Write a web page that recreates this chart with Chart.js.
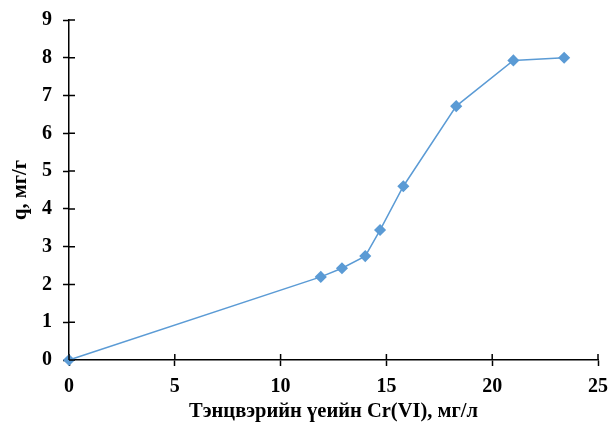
<!DOCTYPE html>
<html>
<head>
<meta charset="utf-8">
<script src="https://cdn.jsdelivr.net/npm/chart.js@4/dist/chart.umd.min.js"></script>
<style>
  html, body { margin: 0; padding: 0; background: #ffffff; }
  #wrap { width: 609px; height: 428px; }
</style>
</head>
<body>
<div id="wrap"><canvas id="c" width="609" height="428"></canvas></div>
<script>
// Equilibrium Cr(VI) concentration, mg/L
const ceValues = [0, 11.9, 12.9, 14.0, 14.7, 15.8, 18.3, 21.0, 23.4];
// Adsorbed amount q, mg/g
const qValues = [0, 2.2, 2.43, 2.75, 3.44, 4.6, 6.72, 7.93, 8.0];

const xTitle = 'Тэнцвэрийн үеийн Cr(VI), мг/л';
const yTitle = 'q, мг/г';

const points = ceValues.map((x, i) => ({ x: x, y: qValues[i] }));

const serif = '"Liberation Serif", "Times New Roman", serif';
const blue = '#5b9bd5';

// Tick marks that cross the axis line: Chart.js draws the outer half,
// this adds the inner half.
const innerTicks = {
  id: 'innerTicks',
  afterDraw(chart) {
    const ctx = chart.ctx;
    const xs = chart.scales.x, ys = chart.scales.y;
    const len = 6;
    ctx.save();
    ctx.strokeStyle = '#000';
    ctx.lineWidth = 1.5;
    ctx.beginPath();
    xs.ticks.forEach(t => {
      const px = xs.getPixelForValue(t.value);
      ctx.moveTo(px, xs.top);
      ctx.lineTo(px, xs.top - len);
    });
    ys.ticks.forEach(t => {
      const py = ys.getPixelForValue(t.value);
      ctx.moveTo(ys.right, py);
      ctx.lineTo(ys.right + len, py);
    });
    ctx.stroke();
    ctx.restore();
  }
};

new Chart(document.getElementById('c'), {
  type: 'scatter',
  data: {
    datasets: [{
      data: points,
      showLine: true,
      borderColor: blue,
      backgroundColor: blue,
      borderWidth: 1.5,
      pointStyle: 'rectRot',
      pointRadius: 5,
      pointHoverRadius: 5,
      clip: false
    }]
  },
  options: {
    responsive: false,
    animation: false,
    layout: { padding: { top: 20, right: 11, left: 0, bottom: 0 } },
    plugins: {
      legend: { display: false },
      tooltip: { enabled: false }
    },
    scales: {
      x: {
        type: 'linear',
        min: 0, max: 25,
        afterFit(scale) {
          scale.height = 68;
          scale.paddingLeft = 0;
          scale.paddingRight = 0;
        },
        ticks: {
          stepSize: 5,
          color: '#000',
          padding: 9,
          font: { family: serif, size: 20, weight: 'bold' }
        },
        grid: {
          drawOnChartArea: false,
          drawTicks: true,
          tickLength: 6,
          tickWidth: 1.5,
          tickColor: '#000'
        },
        border: { display: true, color: '#000', width: 1.5 },
        title: {
          display: true,
          text: xTitle,
          color: '#000',
          padding: { top: 0, bottom: 4 },
          font: { family: serif, size: 20.5, weight: 'bold' }
        }
      },
      y: {
        type: 'linear',
        min: 0, max: 9,
        afterFit(scale) {
          scale.width = 69;
          scale.paddingTop = 0;
          scale.paddingBottom = 0;
        },
        ticks: {
          stepSize: 1,
          color: '#000',
          padding: 11,
          font: { family: serif, size: 20, weight: 'bold' }
        },
        grid: {
          drawOnChartArea: false,
          drawTicks: true,
          tickLength: 6,
          tickWidth: 1.5,
          tickColor: '#000'
        },
        border: { display: true, color: '#000', width: 1.5 },
        title: {
          display: true,
          text: yTitle,
          color: '#000',
          padding: { top: 8, bottom: 0 },
          font: { family: serif, size: 20.5, weight: 'bold' }
        }
      }
    }
  },
  plugins: [innerTicks]
});
</script>
</body>
</html>
